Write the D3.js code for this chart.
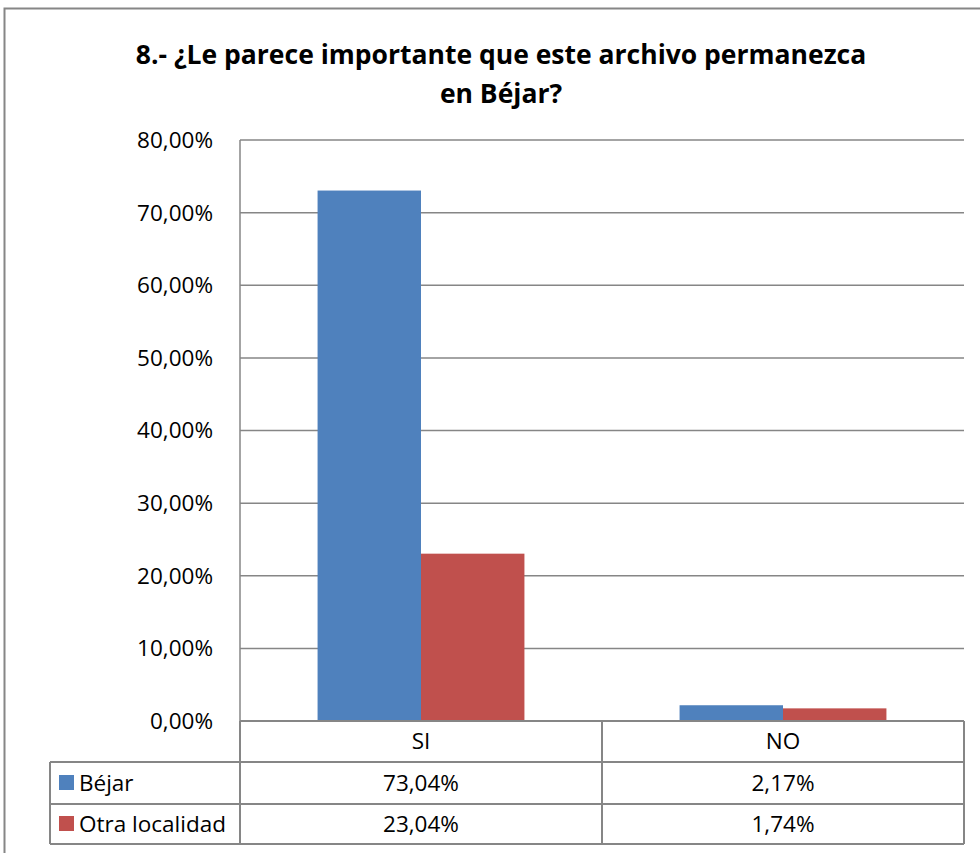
<!DOCTYPE html>
<html>
<head>
<meta charset="utf-8">
<script src="https://cdn.jsdelivr.net/npm/d3@7"></script>
<style>
  body { margin: 0; background: #fff; }
  text { font-family: "Open Sans", "Noto Sans", sans-serif; fill: #000; }
</style>
</head>
<body>
<script>
var categories = ["SI", "NO"];
var seriesNames = ["Béjar", "Otra localidad"];
var bejar = [73.04, 2.17];
var otra = [23.04, 1.74];
var yTicks = [0, 10, 20, 30, 40, 50, 60, 70, 80];
var colors = ["#4F81BD", "#C0504D"];

var W = 980, H = 853;
var plotLeft = 240, plotRight = 964, plotTop = 140, plotBottom = 721;
var rowY = [721, 762, 804, 844];
var tableLeft = 50;
var fontSize = "22.5px";

var svg = d3.select("body").append("svg")
    .attr("width", W)
    .attr("height", H);

// outer chart border
svg.append("rect")
    .attr("x", 4.5).attr("y", 8.5)
    .attr("width", 1000).attr("height", 900)
    .attr("fill", "#fff")
    .attr("stroke", "#868686")
    .attr("stroke-width", 2);

// title
var title = svg.append("text")
    .attr("text-anchor", "middle")
    .style("font-weight", "bold")
    .style("font-size", "26.5px");
title.append("tspan").attr("x", 501).attr("y", 64)
    .text("8.- ¿Le parece importante que este archivo permanezca");
title.append("tspan").attr("x", 501).attr("y", 103)
    .text("en Béjar?");

var x = d3.scaleBand().domain(categories).range([plotLeft, plotRight]);
var xs = d3.scaleBand().domain([0, 1]).range([0, x.bandwidth()]).paddingOuter(0.75);
var y = d3.scaleLinear().domain([0, 80]).range([plotBottom, plotTop]);

var fmt = function(v) { return d3.format(".2f")(v).replace(".", ",") + "%"; };

// gridlines
svg.append("g").selectAll("line")
    .data(yTicks)
    .enter().append("line")
    .attr("x1", plotLeft).attr("x2", plotRight)
    .attr("y1", function(d) { return y(d); })
    .attr("y2", function(d) { return y(d); })
    .attr("stroke", "#868686")
    .attr("stroke-width", 1.5);

// y axis line
svg.append("line")
    .attr("x1", plotLeft).attr("x2", plotLeft)
    .attr("y1", plotTop).attr("y2", plotBottom)
    .attr("stroke", "#868686").attr("stroke-width", 1.5);

// y labels
svg.append("g").selectAll("text")
    .data(yTicks)
    .enter().append("text")
    .attr("x", 213)
    .attr("y", function(d) { return y(d); })
    .attr("dy", "0.35em")
    .attr("text-anchor", "end")
    .style("font-size", fontSize)
    .text(function(d) { return fmt(d); });

// bars
var series = [bejar, otra];
series.forEach(function(vals, si) {
  svg.append("g").selectAll("rect")
      .data(categories)
      .enter().append("rect")
      .attr("x", function(c) { return x(c) + xs(si); })
      .attr("width", xs.bandwidth())
      .attr("y", function(c, i) { return y(vals[i]); })
      .attr("height", function(c, i) { return y(0) - y(vals[i]); })
      .attr("fill", colors[si]);
});

// data table
var tg = svg.append("g");
var stroke = "#868686";
tg.append("line").attr("x1", plotLeft).attr("x2", plotRight).attr("y1", rowY[0]).attr("y2", rowY[0])
    .attr("stroke", stroke).attr("stroke-width", 2);
[1, 2, 3].forEach(function(r) {
  tg.append("line").attr("x1", tableLeft).attr("x2", plotRight)
      .attr("y1", rowY[r]).attr("y2", rowY[r])
      .attr("stroke", stroke).attr("stroke-width", 2);
});
tg.append("line").attr("x1", tableLeft).attr("x2", tableLeft).attr("y1", rowY[1]).attr("y2", rowY[3])
    .attr("stroke", stroke).attr("stroke-width", 2);
[plotLeft, x("NO"), plotRight].forEach(function(xx) {
  tg.append("line").attr("x1", xx).attr("x2", xx).attr("y1", rowY[0]).attr("y2", rowY[3])
      .attr("stroke", stroke).attr("stroke-width", 2);
});

// category labels
tg.selectAll("text.cat")
    .data(categories)
    .enter().append("text")
    .attr("class", "cat")
    .attr("x", function(c) { return x(c) + x.bandwidth() / 2; })
    .attr("y", (rowY[0] + rowY[1]) / 2)
    .attr("dy", "0.35em")
    .attr("text-anchor", "middle")
    .style("font-size", fontSize)
    .text(function(c) { return c; });

series.forEach(function(vals, si) {
  var cy = (rowY[si + 1] + rowY[si + 2]) / 2;
  tg.append("rect")
      .attr("x", 59).attr("y", cy - 8)
      .attr("width", 15).attr("height", 15)
      .attr("fill", colors[si]);
  tg.append("text")
      .attr("x", 79).attr("y", cy)
      .attr("dy", "0.35em")
      .style("font-size", fontSize)
      .text(seriesNames[si]);
  tg.selectAll("text.v" + si)
      .data(categories)
      .enter().append("text")
      .attr("class", "v" + si)
      .attr("x", function(c) { return x(c) + x.bandwidth() / 2; })
      .attr("y", cy)
      .attr("dy", "0.35em")
      .attr("text-anchor", "middle")
      .style("font-size", fontSize)
      .text(function(c, i) { return fmt(vals[i]); });
});
</script>
</body>
</html>
